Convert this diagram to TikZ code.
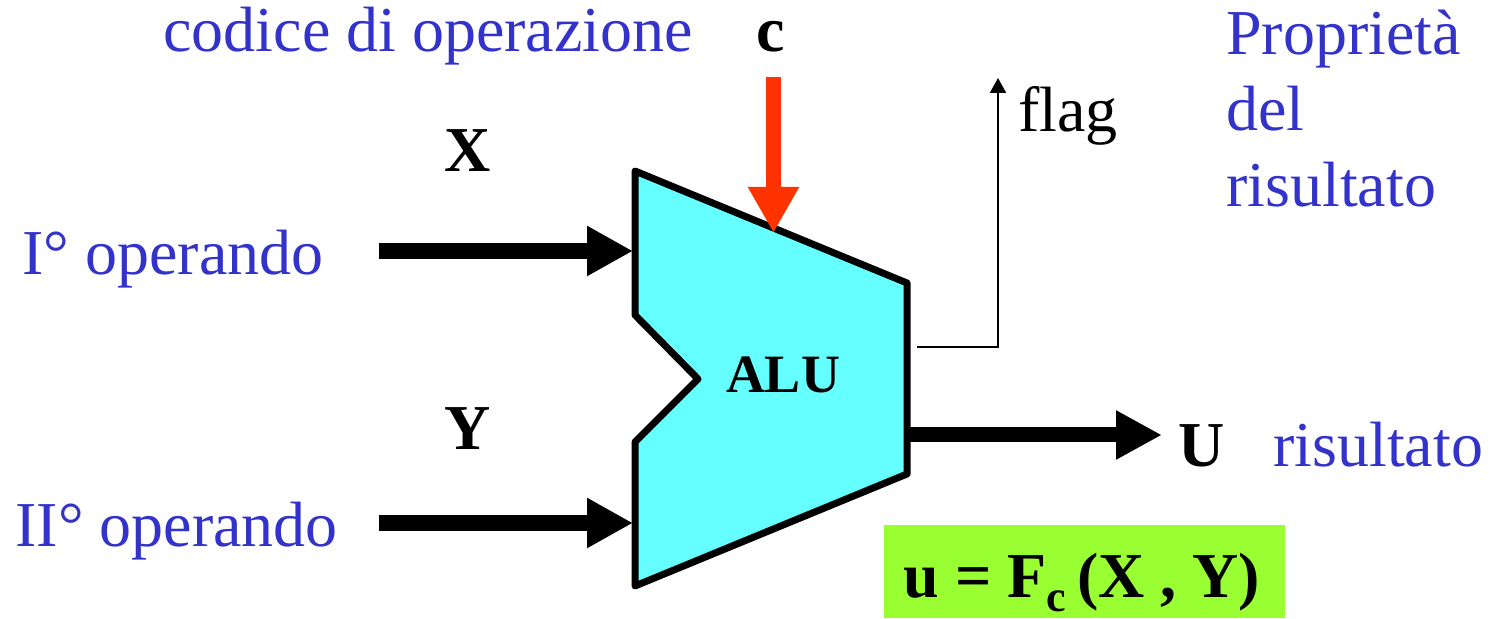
\documentclass[tikz,border=0pt]{standalone}
\usepackage{fontspec}
\setmainfont{Liberation Serif}
\usetikzlibrary{arrows.meta}
\definecolor{txtblue}{HTML}{3333CC}
\definecolor{alucyan}{HTML}{66FFFF}
\definecolor{cred}{HTML}{FF3300}
\definecolor{fgreen}{HTML}{99FF33}
\begin{document}
\begin{tikzpicture}[x=0.5pt,y=-0.5pt,
  lbl/.style={inner sep=0pt, font=\fontsize{32}{38}\selectfont},
  bluelbl/.style={lbl, text=txtblue},
  boldlbl/.style={lbl, font=\fontsize{32}{38}\selectfont\bfseries},
  alubody/.style={draw=black, fill=alucyan, line width=3.5pt, line join=round},
  busarrow/.style={line width=8pt, -{Triangle[length=23pt,width=23.5pt]}},
  outarrow/.style={line width=7.5pt, -{Triangle[length=23pt,width=23pt]}},
  ctrlarrow/.style={draw=cred, line width=7.5pt, -{Triangle[length=23pt,width=24pt]}},
  flagarrow/.style={line width=1pt, -{Triangle[length=7.5pt,width=8pt]}},
]
\useasboundingbox (0,0) rectangle (1490,619);

% ALU body
\draw[alubody] (635,171) -- (907,283) -- (907,474) -- (635,586) -- (635,442) -- (698,379) -- (635,315) -- cycle;
\node[boldlbl, font=\fontsize{27}{30}\selectfont\bfseries, anchor=base] (alu) at (783,393) {ALU};

% coordinates
\coordinate (srcX) at (379,251);
\coordinate (aluX) at (633,251);
\coordinate (srcY) at (379,523);
\coordinate (aluY) at (633,523);
\coordinate (srcC) at (773.5,77);
\coordinate (aluC) at (773.5,233);
\coordinate (aluU) at (907,435);
\coordinate (outU) at (1162,435);
\coordinate (aluF) at (917,347);
\coordinate (outF) at (998,78);

% arrows
\draw[busarrow] (srcX) -- (aluX);
\draw[busarrow] (srcY) -- (aluY);
\draw[ctrlarrow] (srcC) -- (aluC);
\draw[outarrow] (aluU) -- (outU);
\draw[flagarrow] (aluF) -| (outF);

% labels
\node[bluelbl, anchor=base west] (codice) at (163,52) {codice di operazione};
\node[boldlbl, anchor=base] (c) at (771,52) {c};
\node[boldlbl, anchor=base] (X) at (468,172) {X};
\node[boldlbl, anchor=base] (Y) at (468,450) {Y};
\node[bluelbl, anchor=base west] (op1) at (22,275) {I° operando};
\node[bluelbl, anchor=base west] (op2) at (15,547) {II° operando};
\node[bluelbl, anchor=base west, align=left] (prop) at (1226,207) {Proprietà\\del\\risultato};
\node[lbl, anchor=base west] (flag) at (1018,132) {flag};
\node[boldlbl, anchor=base west] (U) at (1178,467) {U};
\node[bluelbl, anchor=base west] (ris) at (1273,467) {risultato};

% formula box
\fill[fgreen] (884,525) rectangle (1285,618);
\node[boldlbl, anchor=base] (formula) at (1082,598) {u = F\raisebox{-7pt}{\fontsize{22}{22}\selectfont c}\,(X , Y)};
\end{tikzpicture}
\end{document}
